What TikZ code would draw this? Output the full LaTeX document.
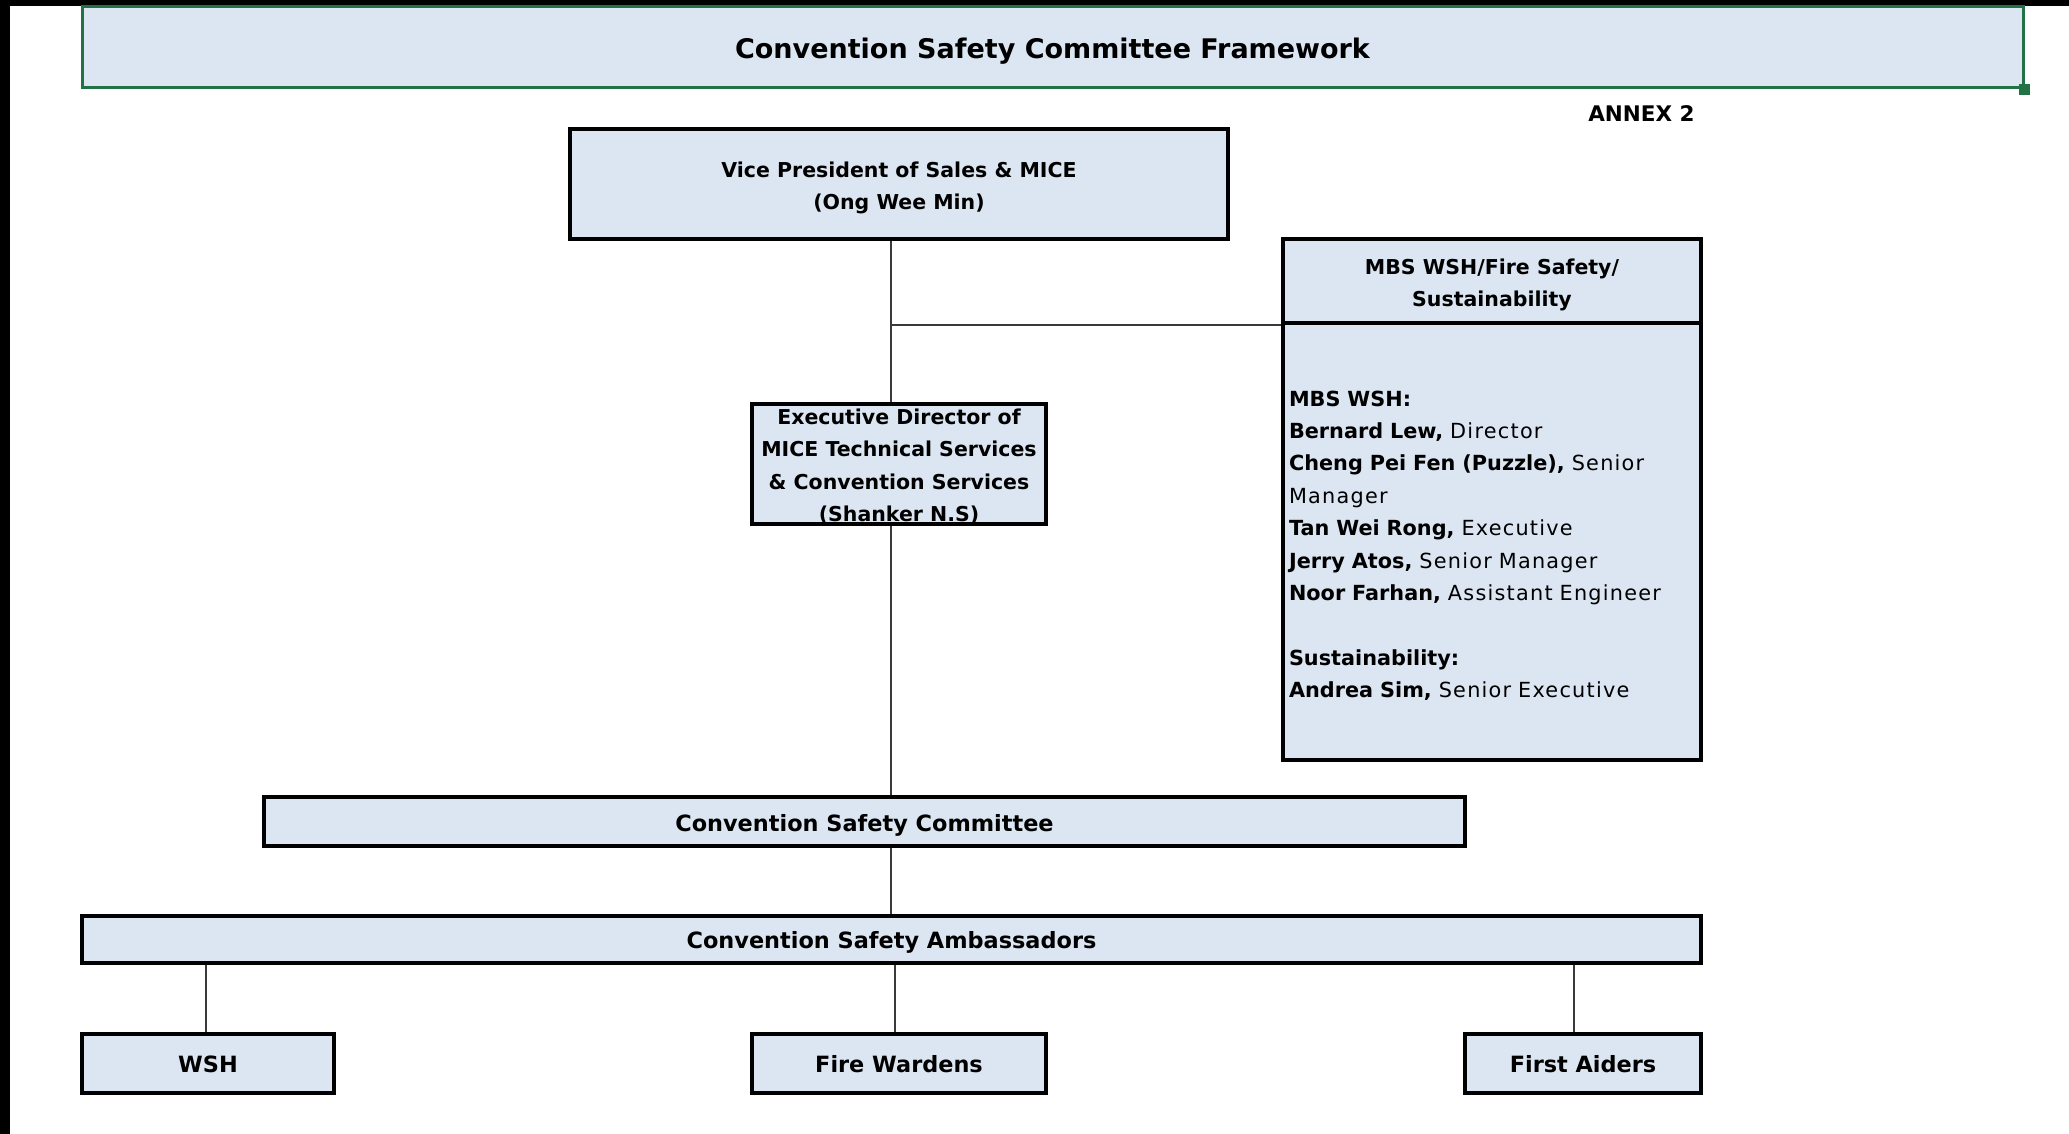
\documentclass[tikz,border=0pt]{standalone}
\usepackage{fontspec}
\setmainfont{DejaVu Sans}
\newfontfamily\regsp[LetterSpace=6]{DejaVu Sans}
\newcommand{\rg}[1]{{\regsp #1}}
\newcommand{\dn}[1]{\rule{0pt}{\dimexpr0.76em+#1\relax}}
\definecolor{boxfill}{HTML}{DCE6F2}
\definecolor{xlgreen}{HTML}{217346}
\definecolor{connc}{HTML}{3A3A3A}
\begin{document}
\begin{tikzpicture}[x=1pt,y=-1pt,
  box/.style={draw=black, line width=3.5pt, fill=boxfill, inner sep=0pt, align=center,
    font=\bfseries\fontsize{20.5}{32.5}\selectfont},
  bigbox/.style={box, font=\bfseries\fontsize{22.4}{28}\selectfont},
  conn/.style={draw=connc, line width=2pt}]
\useasboundingbox (0,0) rectangle (2069,1134);
\fill[white] (0,0) rectangle (2069,1134);
\fill[black] (0,0) rectangle (10,1134);
\fill[black] (0,0) rectangle (2069,6);
% title
\node[draw=xlgreen, line width=3pt, fill=boxfill, minimum width=1941pt, minimum height=81pt,
  inner sep=0pt, font=\bfseries\fontsize{27}{32}\selectfont] (title) at (1052.5,47.5)
  {\dn{8pt}Convention Safety Committee Framework};
\node[fill=xlgreen, minimum size=11pt, inner sep=0pt] (handle) at (title.south east) {};
\node[font=\bfseries\fontsize{21.5}{26}\selectfont, inner sep=0pt] (annex) at (1641.5,114) {ANNEX 2};
% boxes
\node[box, minimum width=658pt, minimum height=110pt] (vp) at (899,184)
  {\dn{8pt}Vice President of Sales \& MICE\\(Ong Wee Min)};
\node[box, minimum width=294pt, minimum height=120pt] (exec) at (899,464)
  {\dn{2pt}Executive Director of\\MICE Technical Services\\\& Convention Services\\\smash{(Shanker N.S)}};
\node[box, minimum width=418pt, minimum height=84pt] (mbsh) at (1492,281)
  {\dn{8pt}MBS WSH/Fire Safety/\\Sustainability};
\node[box, minimum width=418pt, minimum height=437pt, text width=406pt, inner xsep=6pt, align=left,
  font=\fontsize{20.8}{32.4}\selectfont] (mbsb) at (1492,541.5)
  {\dn{8pt}\textbf{MBS WSH:}\\
   \textbf{Bernard Lew,} \rg{Director}\\
   \textbf{Cheng Pei Fen (Puzzle),} \rg{Senior}\\
   \rg{Manager}\\
   \textbf{Tan Wei Rong,} \rg{Executive}\\
   \textbf{Jerry Atos,} \rg{Senior Manager}\\
   \textbf{Noor Farhan,} \rg{Assistant Engineer}\\[32.4pt]
   \textbf{Sustainability:}\\
   \textbf{Andrea Sim,} \rg{Senior Executive}};
\node[bigbox, minimum width=1201pt, minimum height=49pt] (csc) at (864.5,821.5) {\dn{8pt}Convention Safety Committee};
\node[bigbox, minimum width=1619pt, minimum height=47pt] (csa) at (891.5,939.5) {\dn{5pt}Convention Safety Ambassadors};
\node[bigbox, minimum width=252pt, minimum height=59pt] (wsh) at (208,1063.5) {\dn{1pt}WSH};
\node[bigbox, minimum width=294pt, minimum height=59pt] (fire) at (899,1063.5) {\dn{1pt}Fire Wardens};
\node[bigbox, minimum width=236pt, minimum height=59pt] (first) at (1583,1063.5) {\dn{2pt}First Aiders};
% connectors
\coordinate (trunk) at (891,0);
\coordinate (jn) at (891,325);
\coordinate (dw) at (206,0);
\coordinate (df) at (895,0);
\coordinate (da) at (1574,0);
\draw[conn] (vp.south -| trunk) -- (exec.north -| trunk);
\draw[conn] (jn) -- (jn -| mbsb.west);
\draw[conn] (exec.south -| trunk) -- (csc.north -| trunk);
\draw[conn] (csc.south -| trunk) -- (csa.north -| trunk);
\draw[conn] (csa.south -| dw) -- (wsh.north -| dw);
\draw[conn] (csa.south -| df) -- (fire.north -| df);
\draw[conn] (csa.south -| da) -- (first.north -| da);
\end{tikzpicture}
\end{document}
